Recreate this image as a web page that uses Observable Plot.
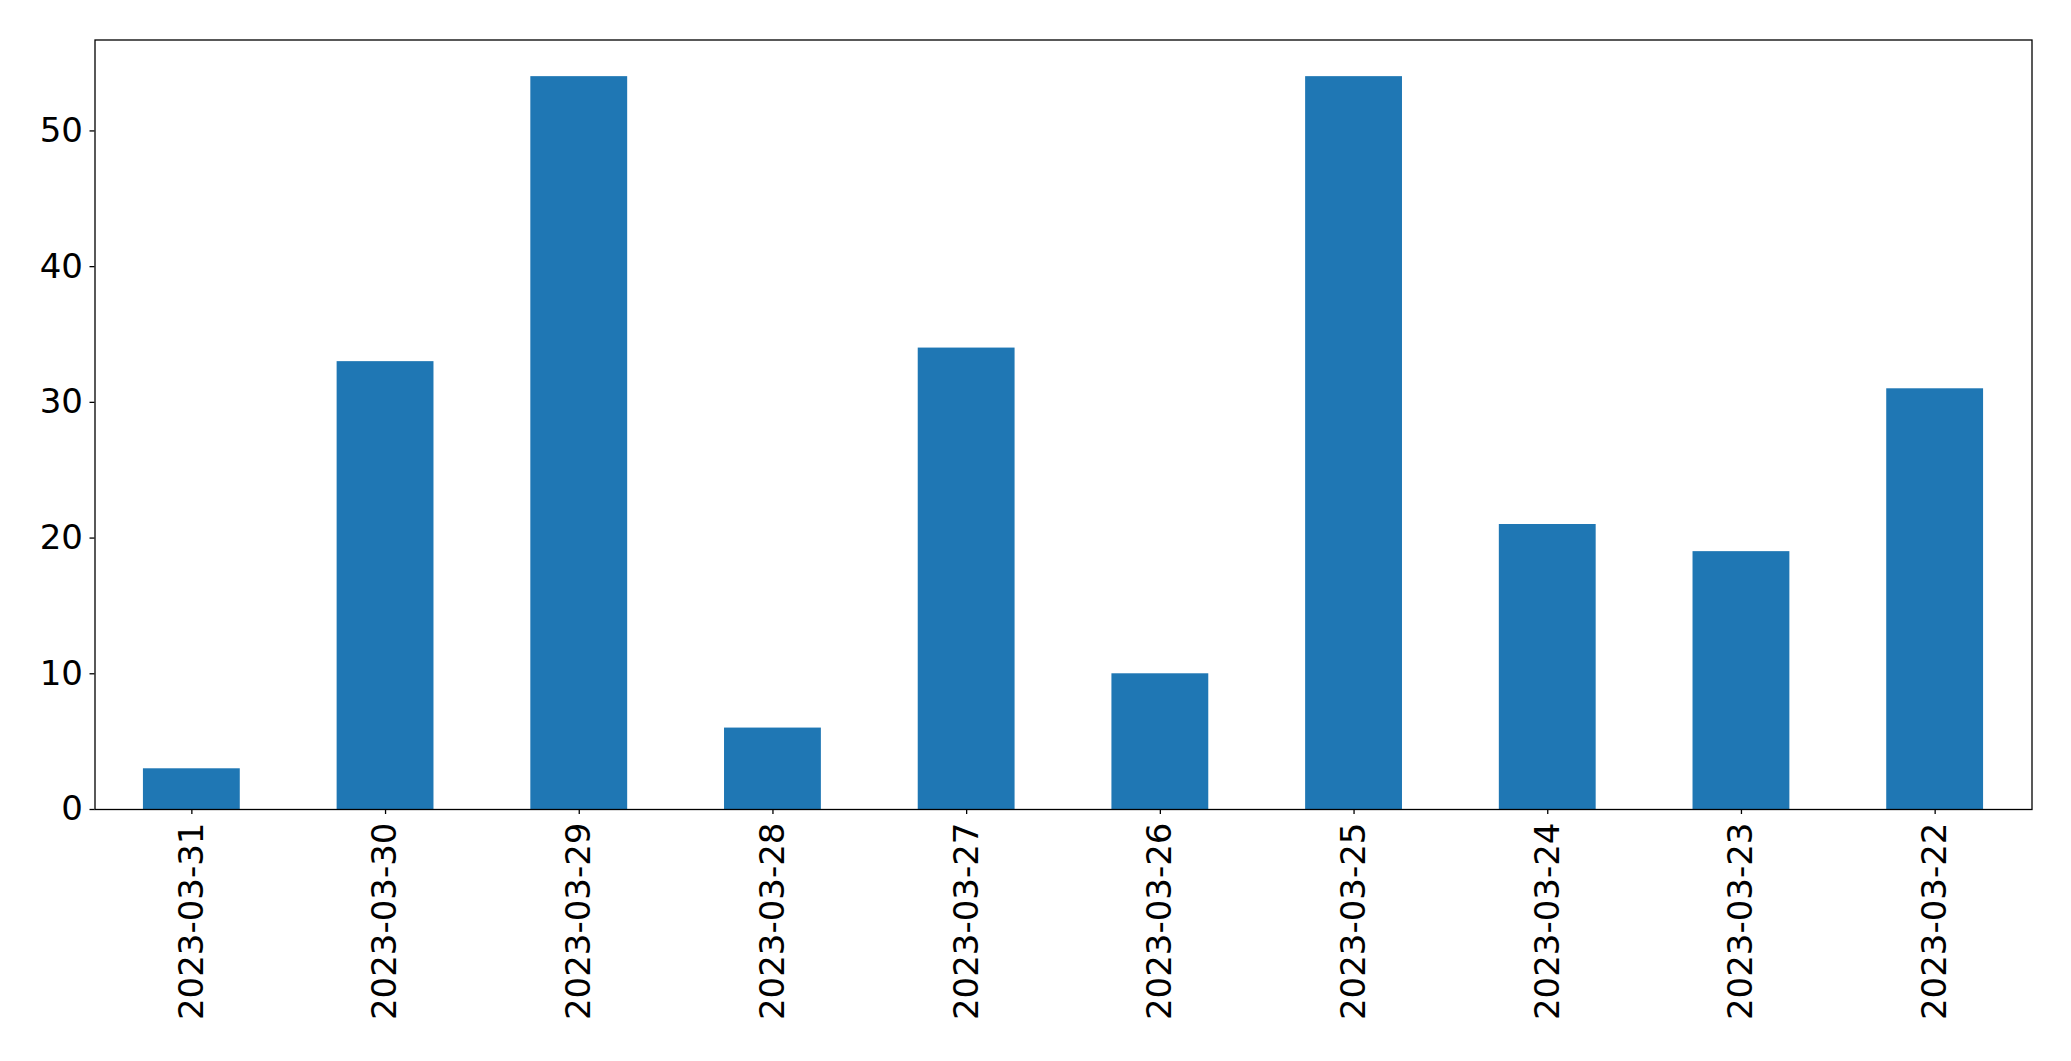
<!DOCTYPE html>
<html>
<head>
<meta charset="utf-8">
<script src="https://cdn.jsdelivr.net/npm/d3@7"></script>
<script src="https://cdn.jsdelivr.net/npm/@observablehq/plot@0.6"></script>
<style>
  html, body { margin: 0; padding: 0; background: #fff; overflow: hidden; }
  svg { display: block; }
</style>
</head>
<body>
<div id="chart"></div>
<script>
const dates = ["2023-03-31","2023-03-30","2023-03-29","2023-03-28","2023-03-27","2023-03-26","2023-03-25","2023-03-24","2023-03-23","2023-03-22"];
const counts = [3, 33, 54, 6, 34, 10, 54, 21, 19, 31];
const yTicks = [0, 10, 20, 30, 40, 50];

const data = dates.map((d, i) => ({date: d, count: counts[i]}));

const chart = Plot.plot({
  width: 2071,
  height: 1061,
  marginLeft: 94.5,
  marginRight: 39.5,
  marginTop: 39.5,
  marginBottom: 252,
  style: {fontFamily: "DejaVu Sans", fontSize: "34px", color: "#000", background: "#fff"},
  x: {domain: dates, paddingInner: 0.5, paddingOuter: 0.25, round: false},
  y: {domain: [0, 56.7]},
  marks: [
    Plot.barY(data, {x: "date", y: "count", fill: "#1f77b4"}),
    Plot.axisX({tickRotate: -90, tickSize: 5, tickPadding: 8, label: null, stroke: "#000", strokeWidth: 1.3}),
    Plot.axisY({ticks: yTicks, tickSize: 5, tickPadding: 7, label: null, stroke: "#000", strokeWidth: 1.3}),
    Plot.frame({stroke: "#000", strokeWidth: 1.3})
  ]
});
document.getElementById("chart").appendChild(chart);
</script>
</body>
</html>
